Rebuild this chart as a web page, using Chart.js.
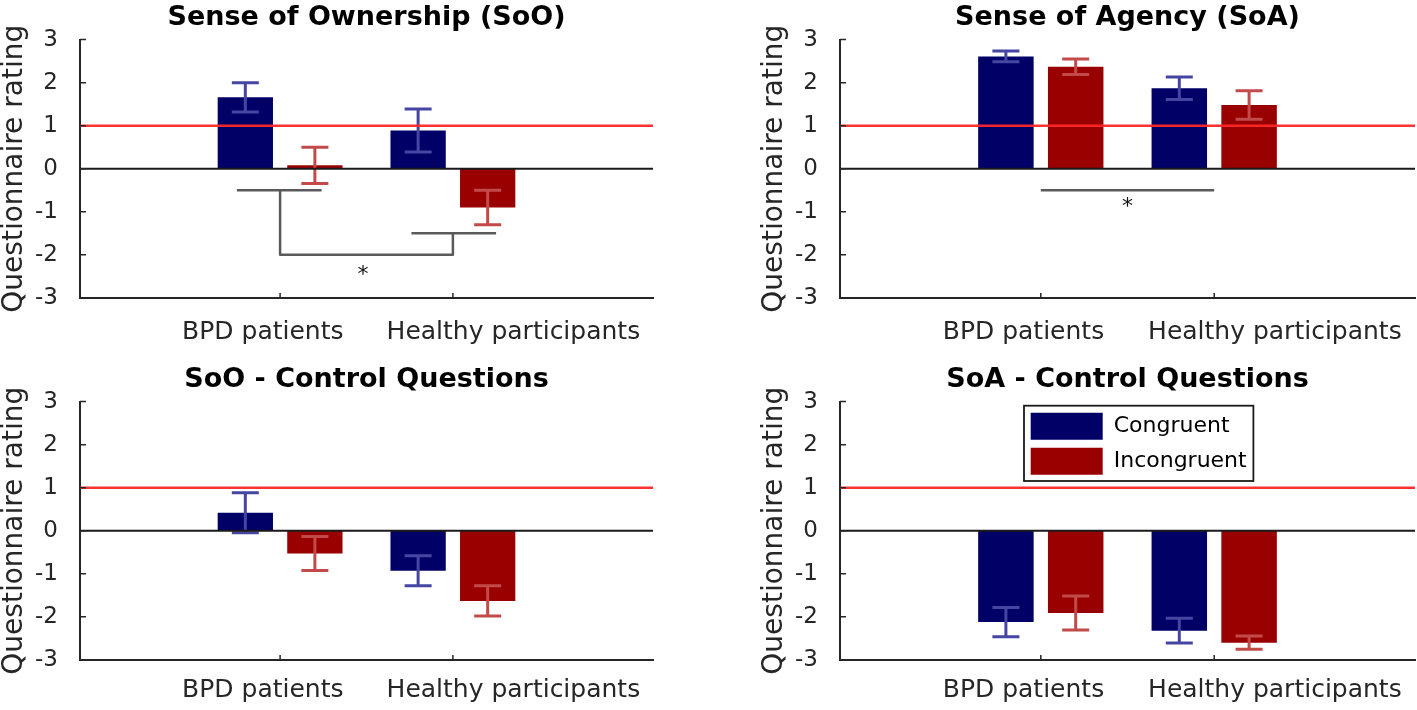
<!DOCTYPE html>
<html>
<head>
<meta charset="utf-8">
<script src="https://cdn.jsdelivr.net/npm/chart.js@4.4.1/dist/chart.umd.min.js"></script>
<style>
  html, body { margin: 0; padding: 0; background: #ffffff; width: 1417px; height: 710px; overflow: hidden; }
  .panel { position: absolute; }
  canvas { display: block; }
</style>
</head>
<body>
<div class="panel" style="left:0px;top:0px;width:708px;height:355px"><canvas id="c0" width="708" height="355"></canvas></div>
<div class="panel" style="left:760px;top:0px;width:657px;height:355px"><canvas id="c1" width="657" height="355"></canvas></div>
<div class="panel" style="left:0px;top:362px;width:708px;height:348px"><canvas id="c2" width="708" height="348"></canvas></div>
<div class="panel" style="left:760px;top:362px;width:657px;height:348px"><canvas id="c3" width="657" height="348"></canvas></div>
<script>
// ---------------- data ----------------
const GROUPS = ['BPD patients', 'Healthy participants'];
const GROUP_X = [1, 2];
const SERIES_NAMES = ['Congruent', 'Incongruent'];
const Y_LABEL = 'Questionnaire rating';
const TITLES = ['Sense of Ownership (SoO)', 'Sense of Agency (SoA)', 'SoO - Control Questions', 'SoA - Control Questions'];
const THRESHOLD = 1;

// Sense of Ownership
const SOO_CONGRUENT = [1.66, 0.89];
const SOO_INCONGRUENT = [0.08, -0.90];
const SOO_CONGRUENT_ERR = [0.34, 0.50];
const SOO_INCONGRUENT_ERR = [0.42, 0.40];

// Sense of Agency
const SOA_CONGRUENT = [2.61, 1.87];
const SOA_INCONGRUENT = [2.37, 1.48];
const SOA_CONGRUENT_ERR = [0.125, 0.26];
const SOA_INCONGRUENT_ERR = [0.18, 0.33];

// SoO control questions
const SOOC_CONGRUENT = [0.42, -0.93];
const SOOC_INCONGRUENT = [-0.53, -1.63];
const SOOC_CONGRUENT_ERR = [0.465, 0.35];
const SOOC_INCONGRUENT_ERR = [0.395, 0.35];

// SoA control questions
const SOAC_CONGRUENT = [-2.12, -2.32];
const SOAC_INCONGRUENT = [-1.91, -2.60];
const SOAC_CONGRUENT_ERR = [0.34, 0.29];
const SOAC_INCONGRUENT_ERR = [0.395, 0.155];

// significance annotations (data coordinates)
const SOO_SIG_PATHS = [
  [[0.75, -0.5], [1.24, -0.5]],
  [[1, -0.5], [1, -2], [2, -2], [2, -1.5]],
  [[1.76, -1.5], [2.25, -1.5]]
];
const SOO_SIG_STAR = [1.48, -2.38];
const SOA_SIG_PATHS = [
  [[1, -0.5], [2, -0.5]]
];
const SOA_SIG_STAR = [1.5, -0.79];

// ---------------- style ----------------
const FONT = "'DejaVu Sans', 'Liberation Sans', sans-serif";
Chart.defaults.font.family = FONT;
const BAR_COLORS = ['#000066', '#990000'];
const ERR_COLORS = ['#4646a2', '#c24a4a'];
const AXIS_COLOR = '#262626';
const TEXT_COLOR = '#262626';
const X_MIN = -0.158, X_MAX = 3.158;
const LABEL_SHIFT = [-0.1, 0.35];
const AREA_BOTTOM = 297.9;
const CAP = 13.5;

function overlayPlugin(p) {
  return {
    id: 'overlay' + p.canvas,
    afterLayout(chart) {
      if (p.legend && chart.legend) {
        const L = chart.legend, a = chart.chartArea;
        L.left = a.left + 182.7;
        L.top = a.top + 3.1;
        L.right = L.left + 400;
        L.bottom = L.top + 150;
      }
    },
    afterDatasetsDraw(chart) {
      const { ctx, chartArea: a, scales: { x, y } } = chart;
      ctx.save();
      // error bars
      chart.data.datasets.forEach((ds, di) => {
        const meta = chart.getDatasetMeta(di);
        meta.data.forEach((bar, j) => {
          const v = ds.data[j].y, e = ds.errors[j];
          const px = bar.x;
          const y1 = y.getPixelForValue(v + e), y2 = y.getPixelForValue(v - e);
          ctx.strokeStyle = ERR_COLORS[di];
          ctx.lineWidth = 3;
          ctx.beginPath();
          ctx.moveTo(px, y1); ctx.lineTo(px, y2);
          ctx.moveTo(px - CAP, y1); ctx.lineTo(px + CAP, y1);
          ctx.moveTo(px - CAP, y2); ctx.lineTo(px + CAP, y2);
          ctx.stroke();
        });
      });
      // zero line
      const y0 = y.getPixelForValue(0);
      ctx.strokeStyle = '#1a1a1a';
      ctx.lineWidth = 2;
      ctx.beginPath(); ctx.moveTo(a.left, y0); ctx.lineTo(a.right, y0); ctx.stroke();
      // threshold line
      const yt = y.getPixelForValue(THRESHOLD);
      ctx.strokeStyle = 'rgba(255,40,40,0.95)';
      ctx.lineWidth = 2.5;
      ctx.beginPath(); ctx.moveTo(a.left, yt); ctx.lineTo(a.right, yt); ctx.stroke();
      // significance
      if (p.sigPaths) {
        ctx.strokeStyle = '#5a5a5a';
        ctx.lineWidth = 2.5;
        ctx.lineJoin = 'round';
        p.sigPaths.forEach(path => {
          ctx.beginPath();
          path.forEach((pt, k) => {
            const px = x.getPixelForValue(pt[0]), py = y.getPixelForValue(pt[1]);
            if (k === 0) ctx.moveTo(px, py); else ctx.lineTo(px, py);
          });
          ctx.stroke();
        });
      }
      if (p.sigStar) {
        ctx.fillStyle = '#111111';
        ctx.font = "22px " + FONT;
        ctx.textAlign = 'center';
        ctx.textBaseline = 'middle';
        ctx.fillText('*', x.getPixelForValue(p.sigStar[0]), y.getPixelForValue(p.sigStar[1]) + 4.4);
      }
      ctx.restore();
    },
    afterDraw(chart) {
      const { ctx, chartArea: a, scales: { x, y } } = chart;
      ctx.save();
      ctx.strokeStyle = AXIS_COLOR;
      ctx.lineWidth = 1.5;
      ctx.beginPath();
      y.ticks.forEach(t => {
        const py = y.getPixelForValue(t.value);
        ctx.moveTo(a.left, py); ctx.lineTo(a.left + 6, py);
      });
      GROUP_X.forEach(g => {
        const px = x.getPixelForValue(g);
        ctx.moveTo(px, a.bottom); ctx.lineTo(px, a.bottom - 5);
      });
      ctx.stroke();
      if (p.legend && chart.legend) {
        const L = chart.legend;
        ctx.font = "22px " + FONT;
        const tw = Math.max(...SERIES_NAMES.map(s => ctx.measureText(s).width));
        const bx = L.left + 8 - 6.7, by = L.top + 8 - 7;
        const bw = 6.7 + 72 + 11 + tw + 6.7;
        const bh = 7 + 27 * 2 + 8 + 6.3;
        ctx.strokeStyle = '#1a1a1a';
        ctx.lineWidth = 1.8;
        ctx.strokeRect(bx, by, bw, bh);
      }
      ctx.restore();
    }
  };
}

function makeChart(p) {
  const el = document.getElementById(p.canvas);
  return new Chart(el, {
    type: 'bar',
    data: {
      datasets: [
        { label: SERIES_NAMES[0], data: GROUP_X.map((g, i) => ({ x: g, y: p.cong[i] })), errors: p.congErr,
          backgroundColor: BAR_COLORS[0], borderWidth: 0 },
        { label: SERIES_NAMES[1], data: GROUP_X.map((g, i) => ({ x: g, y: p.incong[i] })), errors: p.incongErr,
          backgroundColor: BAR_COLORS[1], borderWidth: 0 }
      ]
    },
    options: {
      responsive: false,
      animation: false,
      devicePixelRatio: 1,
      categoryPercentage: 0.805,
      barPercentage: 0.795,
      layout: { padding: { left: 0, right: p.padRight, top: 0, bottom: 0 } },
      scales: {
        x: {
          type: 'linear', min: X_MIN, max: X_MAX, offset: false,
          afterBuildTicks: s => { s.ticks = GROUP_X.map((g, i) => ({ value: g + LABEL_SHIFT[i] })); },
          afterFit: s => { s.height = p.h - AREA_BOTTOM; },
          grid: { display: true, drawOnChartArea: false, drawTicks: true, tickLength: p.xGap, tickColor: 'rgba(0,0,0,0)', offset: false },
          border: { display: true, color: AXIS_COLOR, width: 2 },
          ticks: { padding: 0, autoSkip: false, maxRotation: 0, minRotation: 0, color: TEXT_COLOR,
                   font: { size: 25 }, callback: (v, i) => GROUPS[i] }
        },
        y: {
          type: 'linear', min: -3, max: 3,
          afterFit: s => { s.width = 80; },
          grid: { display: false },
          border: { display: true, color: AXIS_COLOR, width: 2 },
          ticks: { stepSize: 1, padding: 14, color: TEXT_COLOR, font: { size: 23 } },
          title: { display: true, text: Y_LABEL, color: TEXT_COLOR, font: { size: 28, lineHeight: 1 }, padding: { top: 1, bottom: 0 } }
        }
      },
      plugins: {
        title: { display: true, text: p.title, fullSize: false, color: '#000000',
                 font: { size: 27, weight: 'bold', lineHeight: 1.2 }, padding: { top: 1.5, bottom: 5.7 } },
        legend: p.legend ? {
          display: true, position: 'chartArea', align: 'start',
          labels: { boxWidth: 72, boxHeight: 27, padding: 8, color: '#000000', font: { size: 22 } }
        } : { display: false },
        tooltip: { enabled: false }
      }
    },
    plugins: [overlayPlugin(p)]
  });
}

const PANELS = [
  { canvas: 'c0', h: 355, padRight: 55, xGap: 19.5, title: TITLES[0],
    cong: SOO_CONGRUENT, incong: SOO_INCONGRUENT, congErr: SOO_CONGRUENT_ERR, incongErr: SOO_INCONGRUENT_ERR,
    sigPaths: SOO_SIG_PATHS, sigStar: SOO_SIG_STAR },
  { canvas: 'c1', h: 355, padRight: 2, xGap: 19.5, title: TITLES[1],
    cong: SOA_CONGRUENT, incong: SOA_INCONGRUENT, congErr: SOA_CONGRUENT_ERR, incongErr: SOA_INCONGRUENT_ERR,
    sigPaths: SOA_SIG_PATHS, sigStar: SOA_SIG_STAR },
  { canvas: 'c2', h: 348, padRight: 55, xGap: 15.5, title: TITLES[2],
    cong: SOOC_CONGRUENT, incong: SOOC_INCONGRUENT, congErr: SOOC_CONGRUENT_ERR, incongErr: SOOC_INCONGRUENT_ERR },
  { canvas: 'c3', h: 348, padRight: 2, xGap: 15.5, title: TITLES[3], legend: true,
    cong: SOAC_CONGRUENT, incong: SOAC_INCONGRUENT, congErr: SOAC_CONGRUENT_ERR, incongErr: SOAC_INCONGRUENT_ERR }
];

PANELS.forEach(makeChart);
</script>
</body>
</html>
